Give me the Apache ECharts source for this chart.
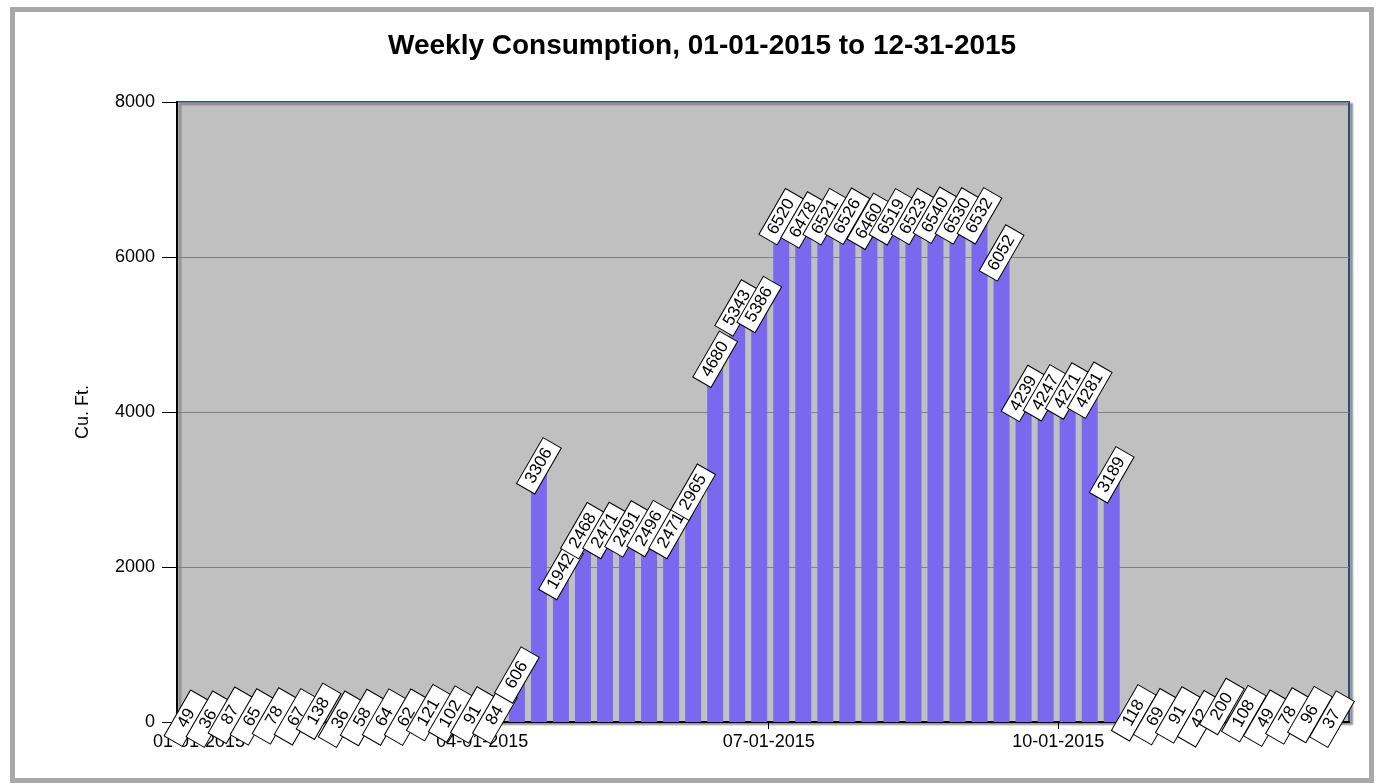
<!DOCTYPE html>
<html><head><meta charset="utf-8">
<script src="https://cdn.jsdelivr.net/npm/echarts@6/dist/echarts.min.js"></script>
<style>html,body{margin:0;padding:0;background:#fff}#c{width:1376px;height:784px}</style>
</head><body><div id="c"></div>
<script>
// Week start dates (MM-DD-YYYY)
const weekStarts = [
'12-28-2014','01-04-2015','01-11-2015','01-18-2015','01-25-2015','02-01-2015','02-08-2015','02-15-2015','02-22-2015',
'03-01-2015','03-08-2015','03-15-2015','03-22-2015','03-29-2015','04-05-2015','04-12-2015','04-19-2015','04-26-2015',
'05-03-2015','05-10-2015','05-17-2015','05-24-2015','05-31-2015','06-07-2015','06-14-2015','06-21-2015','06-28-2015',
'07-05-2015','07-12-2015','07-19-2015','07-26-2015','08-02-2015','08-09-2015','08-16-2015','08-23-2015','08-30-2015',
'09-06-2015','09-13-2015','09-20-2015','09-27-2015','10-04-2015','10-11-2015','10-18-2015','10-25-2015','11-01-2015',
'11-08-2015','11-15-2015','11-22-2015','11-29-2015','12-06-2015','12-13-2015','12-20-2015','12-27-2015'
];
// Weekly consumption, Cu. Ft.
const consumption = [
49,36,87,65,78,67,138,36,58,64,62,121,102,91,84,606,
3306,1942,2468,2471,2491,2496,2471,2965,4680,5343,5386,
6520,6478,6521,6526,6460,6519,6523,6540,6530,6532,6052,
4239,4247,4271,4281,3189,
118,69,91,42,200,108,49,78,96,37
];
const xTickLabels = ['01-01-2015','04-01-2015','07-01-2015','10-01-2015'];
const yTicks = [0,2000,4000,6000,8000];

function dayOf(s){
  const p = s.split('-').map(Number);
  return (Date.UTC(p[2], p[0]-1, p[1]) - Date.UTC(2015,0,1)) / 86400000;
}
const weekDays = weekStarts.map(dayOf);
const tickDays = xTickLabels.map(dayOf);

const chart = echarts.init(document.getElementById('c'), null, {renderer:'canvas'});
const FONT = '"Liberation Sans", Arial, sans-serif';
chart.setOption({
  animation:false,
  backgroundColor:'#ffffff',
  title:{
    text:'Weekly Consumption, 01-01-2015 to 12-31-2015',
    left:388, top:32, padding:0,
    textStyle:{fontFamily:FONT, fontSize:28, fontWeight:'bold', color:'#000'}
  },
  graphic:[{
    type:'rect', silent:true, z:-1,
    shape:{x:12.5, y:9.5, width:1359, height:771},
    style:{fill:null, stroke:'#A8A8A8', lineWidth:5}
  }],
  grid:{
    left:177, right:27, top:102, bottom:62, show:true,
    backgroundColor:'#C0C0C0', borderColor:'#2B4C7E', borderWidth:2,
    shadowColor:'rgba(0,0,0,0.35)', shadowOffsetX:3, shadowOffsetY:2, shadowBlur:2
  },
  xAxis:{
    type:'value', min:-7, max:365.4,
    splitLine:{show:false},
    axisLine:{show:true, onZero:false, lineStyle:{color:'#000', width:2}},
    axisTick:{show:true, customValues:tickDays, length:7, lineStyle:{color:'#000', width:1}},
    axisLabel:{customValues:tickDays, margin:11, fontFamily:FONT, fontSize:18, color:'#000',
      formatter:function(v){ const i = tickDays.indexOf(v); return i>=0 ? xTickLabels[i] : ''; }}
  },
  yAxis:{
    type:'value', min:yTicks[0], max:yTicks[yTicks.length-1], interval:2000,
    name:'Cu. Ft.', nameLocation:'middle', nameGap:85, nameRotate:90,
    nameTextStyle:{fontFamily:FONT, fontSize:18, color:'#000'},
    axisLine:{show:true, onZero:false, lineStyle:{color:'#000', width:2}},
    axisTick:{show:true, length:15, lineStyle:{color:'#000', width:1}},
    axisLabel:{margin:22, fontFamily:FONT, fontSize:18, color:'#000',
      formatter:function(v){ return String(v); }},
    splitLine:{show:true, lineStyle:{color:'#808080', width:1}}
  },
  series:[{
    type:'bar',
    data: weekDays.map((d,i)=>[d, consumption[i]]),
    barWidth:16,
    itemStyle:{color:'#7B68EE'},
    label:{
      show:true, position:'top', distance:0, rotate:60,
      align:'center', verticalAlign:'middle',
      fontFamily:FONT, fontSize:17, color:'#000',
      backgroundColor:'#ffffff', borderColor:'#000', borderWidth:1,
      padding:[1,3], width:46, lineHeight:18,
      formatter:function(p){ return String(p.value[1]); }
    },
    labelLayout:{hideOverlap:false}
  }]
});
</script></body></html>
